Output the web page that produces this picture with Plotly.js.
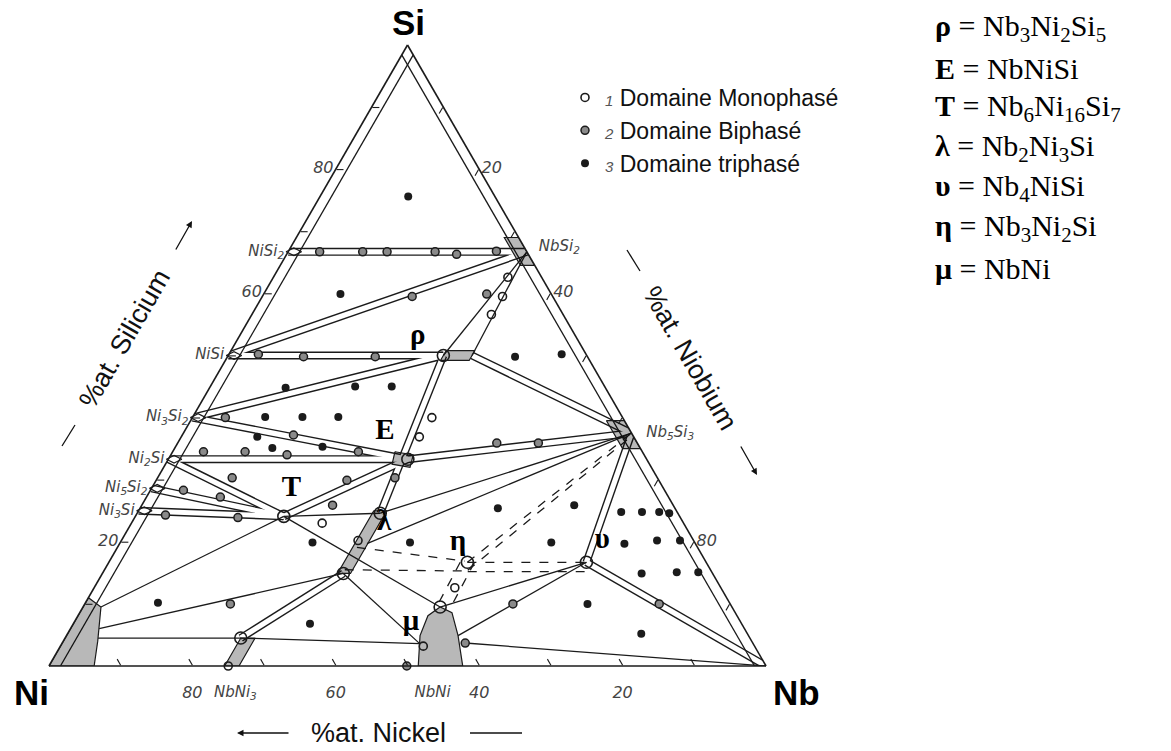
<!DOCTYPE html>
<html>
<head>
<meta charset="utf-8">
<script src="https://cdn.plot.ly/plotly-3.0.1.min.js"></script>
<style>
  body { margin: 0; background: #fff; }
  #myDiv { width: 1171px; height: 751px; }
</style>
</head>
<body>
<div id="myDiv"></div>
<script>
// toutes les compositions en %at. : [Si, Ni, Nb]
var Ni_ = [0, 100, 0], Nb_ = [0, 0, 100];
var NiSi2 = [66.7, 33.3, 0], NiSi = [50, 50, 0], Ni3Si2 = [40, 60, 0];
var Ni2Si = [33.3, 66.7, 0], Ni5Si2 = [28.6, 71.4, 0], Ni3Si = [25, 75, 0];
var NbSi2 = [66.7, 0, 33.3], Nb5Si3 = [37.5, 0, 62.5];
var rho = [50, 20, 30], rho2 = [50, 16, 34], E = [33.3, 33.3, 33.4], T = [24.1, 55.2, 20.7];
var lamHaut = [24.6, 41.5, 33.9], lamMil = [19.7, 45.8, 34.5], lamBas = [14.9, 51.5, 33.6];
var eta = [16.7, 33.3, 50], ups = [16.7, 16.7, 66.6];
var muHaut = [9.5, 40.7, 49.8], muGauche = [3.6, 46.5, 49.9], muDroite = [3.7, 40.1, 56.2];
var NbNi3haut = [4.5, 71, 24.5], NbNi3bas = [0, 75, 25];
var NissHaut = [9.5, 88, 2.5], NissMil = [6, 90, 4], NissBas = [4.5, 90.9, 4.6];

// domaines biphasés étroits (traits doubles)
var bandes = [[NiSi2, NbSi2], [NiSi, NbSi2], [NiSi, rho], [Ni3Si2, rho], [Ni3Si2, E],
  [Ni2Si, E], [Ni2Si, T], [Ni5Si2, T], [Ni3Si, T], [T, E], [rho, lamHaut],
  [rho2, Nb5Si3], [E, Nb5Si3], [ups, Nb5Si3], [ups, Nb_], [NbNi3haut, lamBas]];

// conodes simples
var traits = [[NbSi2, rho], [NbSi2, rho2], [NissHaut, T], [NissMil, lamBas], [NissBas, NbNi3haut],
  [NbNi3haut, muGauche], [T, lamHaut], [T, muHaut], [lamBas, muGauche], [lamHaut, Nb5Si3],
  [lamMil, Nb5Si3], [muHaut, ups], [[4.9, 40.5, 54.6], ups], [muDroite, Nb_]];

// limites incertaines (tirets)
var tirets = [[[19.1, 47.5, 33.4], [16.9, 33.6, 49.5]], [[15.5, 51, 33.5], [15.3, 34.5, 50.2]],
  [eta, Nb5Si3], [[15.4, 33.9, 50.7], [36.4, 1.2, 62.4]],
  [eta, ups], [[15.2, 34, 50.8], [15.2, 17.7, 67.1]],
  [[16.7, 34.3, 49], [9.5, 41.2, 49.3]], [[16.7, 32.3, 51], [9.5, 39.2, 51.3]]];

// trait intérieur des bords gauche et droit
var bordsInt = [[[98.4, 0, 1.6], [0, 98.4, 1.6]], [[98.4, 1.6, 0], [0, 1.6, 98.4]]];

// zones hachurées
var zones = [
  [[0, 100, 0], [11, 89, 0], [9.5, 88, 2.5], [4, 91.2, 4.8], [0, 93.7, 6.3]],
  [[0, 48.5, 51.5], [4.9, 45.8, 49.3], [8.1, 43.1, 48.8], [9.5, 40.7, 49.8], [8.6, 39.5, 51.9], [4.9, 40.5, 54.6], [0, 42.3, 57.7]],
  [[0, 75.5, 24.5], [0, 73.5, 26.5], [4.5, 69, 26.5], [4.5, 71, 24.5]],
  [[25, 42.2, 32.8], [25, 40.4, 34.6], [14.9, 50.5, 34.6], [14.9, 52.3, 32.8]],
  [[50.8, 19.2, 30], [50.8, 15.2, 34], [49.2, 16.8, 34], [49.2, 20.8, 30]],
  [[34.5, 34.5, 31], [34, 32.2, 33.8], [32, 33.65, 34.35], [32.5, 35.9, 31.6]],
  [[69, 0, 31], [64.5, 0, 35.5], [64.5, 2, 33.5], [69, 2, 29]],
  [[39.5, 0, 60.5], [35, 0, 65], [35, 2.5, 62.5], [39.5, 2.5, 58]]
];

// échantillons
var monophase = [[62.6, 4.7, 32.7], [59.5, 7, 33.5], [56.6, 10, 33.4], [40, 26.6, 33.4], [36.9, 29.9, 33.2],
  [23, 50.4, 26.6], [12.6, 37.1, 50.3], [3.2, 46.2, 50.6], [20.2, 46.8, 33], [0, 75, 25]];
var biphase = [[66.7, 28.9, 4.4], [66.7, 22.9, 10.4], [66.7, 19.5, 13.8], [66.7, 12.8, 20.5], [66.3, 10, 23.7], [66.8, 4.2, 29],
  [59.5, 19.6, 20.9], [59.9, 9, 31.1], [50.2, 45.7, 4.1], [49.8, 39.6, 10.6], [49.8, 29.6, 20.6],
  [40, 55.4, 4.6], [37.2, 47.3, 15.5], [34.5, 39.6, 25.9], [34.5, 61.2, 4.3], [34.5, 55.4, 10.1], [34, 49.8, 16.2],
  [30.3, 59.3, 10.4], [28.3, 67.1, 4.6], [27.2, 62.5, 10.3], [24.3, 71.6, 4.1], [23.9, 61.7, 14.4],
  [29.9, 43.5, 26.6], [25.9, 47.5, 26.6], [10, 69.7, 20.3], [35.9, 19.6, 44.5], [35.9, 13.8, 50.3],
  [10, 30.3, 59.7], [10, 9.9, 80.1], [0, 50.1, 49.9], [3.7, 40.1, 56.2], [30.3, 36.6, 33.1]];
var triphase = [[75.6, 12.1, 12.3], [59.9, 29.4, 10.7], [49.8, 10.1, 40.1], [50.2, 3.4, 46.4],
  [44.8, 44.6, 10.6], [45, 34.8, 20.2], [45, 29.7, 25.3], [40.1, 49.8, 10.1], [40.1, 44.6, 15.3], [40.1, 39.6, 20.3],
  [36.9, 52.5, 10.6], [35.1, 51.3, 13.6], [35.3, 44.2, 20.5], [10.2, 79.7, 10.1], [6.8, 60.2, 33],
  [25.4, 24.7, 49.9], [19.9, 39.7, 40.4], [25.9, 13.8, 60.3], [19.9, 20, 60.1], [10, 19.9, 70.1], [5.2, 14.8, 80],
  [24.8, 7.8, 67.4], [24.8, 4.9, 70.3], [24.8, 2.5, 72.7], [24.6, 1.2, 74.2],
  [19.7, 9.9, 70.4], [20.2, 5.1, 74.7], [20.2, 1.9, 77.9], [14.9, 9.9, 75.2], [15.1, 4.9, 80], [15.1, 1.9, 83],
  [19.9, 53.3, 26.8]];
var noeuds = [rho, E, T, lamHaut, lamBas, eta, ups, muHaut, NbNi3haut];

// étiquettes
var composesGauche = ['NiSi<sub>2</sub>', 'NiSi', 'Ni<sub>3</sub>Si<sub>2</sub>', 'Ni<sub>2</sub>Si', 'Ni<sub>5</sub>Si<sub>2</sub>', 'Ni<sub>3</sub>Si'];
var posGauche = [[66.7, 32.5, 0.8], [50, 49.2, 0.8], [40, 59.2, 0.8], [33.3, 65.9, 0.8], [28.6, 70.6, 0.8], [25, 74.2, 0.8]];
var composesDroite = ['NbSi<sub>2</sub>', 'Nb<sub>5</sub>Si<sub>3</sub>'];
var posDroite = [[67.5, 0, 32.5], [37.5, 0, 62.5]];
var composesBas = ['NbNi<sub>3</sub>', 'NbNi'];
var posBas = [[0, 74, 26], [0, 46.5, 53.5]];
var graduationsNi = [80, 60, 40, 20];   // %at. Ni écrits sous la base
var phases = ['ρ', 'E', 'T', 'λ', 'η', 'υ', 'μ'];
var posPhases = [[53.1, 22, 24.9], [37.7, 34.3, 28], [28.6, 51.9, 19.5], [23.1, 41.7, 35.2], [19.9, 33, 47.1], [20.1, 12.8, 67.1], [7, 46, 47]];
var formules = ['Nb<sub>3</sub>Ni<sub>2</sub>Si<sub>5</sub>', 'NbNiSi', 'Nb<sub>6</sub>Ni<sub>16</sub>Si<sub>7</sub>',
  'Nb<sub>2</sub>Ni<sub>3</sub>Si', 'Nb<sub>4</sub>NiSi', 'Nb<sub>3</sub>Ni<sub>2</sub>Si', 'NbNi'];
var symboles = ['ρ', 'E', 'T', 'λ', 'υ', 'η', 'μ'];
var legendes = ['Domaine Monophasé', 'Domaine Biphasé', 'Domaine triphasé'];

var noir = '#1b1b1b';
var W = 1171, H = 751;

function segments(liste) {
  var a = [], b = [], c = [];
  for (var i = 0; i < liste.length; i++) {
    for (var j = 0; j < liste[i].length; j++) {
      a.push(liste[i][j][0]); b.push(liste[i][j][1]); c.push(liste[i][j][2]);
    }
    a.push(null); b.push(null); c.push(null);
  }
  return {a: a, b: b, c: c};
}
function pts(liste) {
  return {a: liste.map(function (p) { return p[0]; }),
          b: liste.map(function (p) { return p[1]; }),
          c: liste.map(function (p) { return p[2]; })};
}
function trace(geo, opts) {
  var t = {type: 'scatterternary', hoverinfo: 'skip', showlegend: false, cliponaxis: false};
  Object.assign(t, geo, opts);
  return t;
}

var data = [];
data.push(trace(segments(bandes), {mode: 'lines', line: {color: noir, width: 8}}));
data.push(trace(segments(bandes), {mode: 'lines', line: {color: 'white', width: 5.2}}));
data.push(trace(segments(bordsInt), {mode: 'lines', line: {color: noir, width: 1.3}}));
data.push(trace(segments(traits), {mode: 'lines', line: {color: noir, width: 1.3}}));
data.push(trace(segments(tirets), {mode: 'lines', line: {color: noir, width: 1.3, dash: 'dash'}}));
zones.forEach(function (z) {
  data.push(trace(pts(z.concat([z[0]])), {mode: 'lines', fill: 'toself', fillcolor: 'rgba(0,0,0,0.28)',
    line: {color: noir, width: 1.2}}));
});
data.push(trace(pts(posGauche), {mode: 'markers', marker: {symbol: 'diamond-wide-open', size: 11, color: noir, line: {width: 1.2}}}));
data.push(trace(pts(noeuds), {mode: 'markers', marker: {symbol: 'circle-open', size: 12, color: noir, line: {width: 1.6}}}));

function nom(n, txt) {
  return '<span style="color:#555;font-size:15px"><i>' + n + '</i></span> ' + txt;
}
data.push(trace(pts(monophase), {mode: 'markers', showlegend: true, name: nom(1, legendes[0]),
  marker: {symbol: 'circle-open', size: 8, color: noir, line: {width: 1.6}}}));
data.push(trace(pts(biphase), {mode: 'markers', showlegend: true, name: nom(2, legendes[1]),
  marker: {symbol: 'circle', size: 8, color: '#8a8a8a', line: {color: noir, width: 1.5}}}));
data.push(trace(pts(triphase), {mode: 'markers', showlegend: true, name: nom(3, legendes[2]),
  marker: {symbol: 'circle', size: 8, color: noir}}));

var fontMain = {family: 'DejaVu Sans', size: 15, color: '#444', style: 'italic'};
data.push(trace(pts(posGauche), {mode: 'markers+text', text: composesGauche, textposition: 'middle left',
  textfont: fontMain, marker: {size: 14, opacity: 0}}));
data.push(trace(pts(posDroite), {mode: 'markers+text', text: composesDroite, textposition: 'middle right',
  textfont: fontMain, marker: {size: 22, opacity: 0}}));
data.push(trace(pts(posBas), {mode: 'markers+text', text: composesBas, textposition: 'bottom center',
  textfont: fontMain, marker: {size: 30, opacity: 0}}));
data.push(trace({a: graduationsNi.map(function () { return 0; }), b: graduationsNi,
  c: graduationsNi.map(function (v) { return 100 - v; })},
  {mode: 'markers+text', text: graduationsNi.map(String), textposition: 'bottom center',
  textfont: {family: 'DejaVu Sans', size: 16, color: '#444', style: 'italic'}, marker: {size: 30, opacity: 0}}));
data.push(trace(pts(posPhases), {mode: 'text', text: phases, textposition: 'middle center',
  textfont: {family: 'Liberation Serif', size: 29, color: '#000', weight: 'bold'}}));

function axe(vals, textes) {
  return {
    min: 0, title: {text: ''},
    tickmode: 'array', tickvals: vals, ticktext: textes,
    ticks: 'inside', ticklen: 7, tickcolor: noir, tickwidth: 1.1,
    showgrid: false, showline: true, linecolor: noir, linewidth: 1.6,
    tickfont: {family: 'DejaVu Sans', size: 16, color: '#444', style: 'italic'}
  };
}
var dix = [10, 20, 30, 40, 50, 60, 70, 80, 90];

function px(x) { return x / W; }
function py(y) { return 1 - y / H; }
function note(x, y, txt, opts) {
  return Object.assign({xref: 'paper', yref: 'paper', x: px(x), y: py(y), text: txt,
    xanchor: 'center', yanchor: 'middle', showarrow: false}, opts);
}

var fontCoin = {family: 'Liberation Sans', size: 35, color: '#000'};
var fontAxe = {family: 'Liberation Sans', size: 27, color: '#111'};
var annotations = [
  note(408, 22, '<b>Si</b>', {font: fontCoin}),
  note(31, 692, '<b>Ni</b>', {font: fontCoin}),
  note(796, 692, '<b>Nb</b>', {font: fontCoin}),
  note(125, 338, '%at. Silicium', {textangle: -60, font: fontAxe}),
  note(690, 358, '%at. Niobium', {textangle: 60, font: fontAxe}),
  note(378, 733, '%at. Nickel', {font: fontAxe})
];
// flèches
[[192, 221, -17, 30], [757, 475, -17, -30], [237, 733, 53, 0]].forEach(function (f) {
  annotations.push({xref: 'paper', yref: 'paper', x: px(f[0]), y: py(f[1]), ax: f[2], ay: f[3], text: '',
    showarrow: true, arrowhead: 2, arrowsize: 1, arrowwidth: 1.3, arrowcolor: '#111'});
});
// formules
for (var i = 0; i < symboles.length; i++) {
  annotations.push(note(933, 28 + 40 * i, '<b>' + symboles[i] + '</b> = ' + formules[i],
    {xanchor: 'left', font: {family: 'Liberation Serif', size: 30, color: '#000'}}));
}

var shapes = [[62, 446, 75, 425], [627, 250, 640, 271], [470, 733, 522, 733]].map(function (s) {
  return {type: 'line', xref: 'paper', yref: 'paper', x0: px(s[0]), y0: py(s[1]), x1: px(s[2]), y1: py(s[3]),
    line: {color: '#111', width: 1.3}};
});

var layout = {
  width: W, height: H,
  margin: {l: 0, r: 0, t: 0, b: 0},
  paper_bgcolor: 'white',
  showlegend: true,
  legend: {x: px(565), y: py(76), xanchor: 'left', yanchor: 'top', bgcolor: 'rgba(0,0,0,0)',
    font: {family: 'Liberation Sans', size: 23, color: '#111'}, tracegroupgap: 0},
  ternary: {
    sum: 100,
    domain: {x: [px(46), px(769)], y: [py(666), py(45)]},
    bgcolor: 'white',
    aaxis: axe(dix, ['', '20', '', '', '', '60', '', '80', '']),
    baxis: axe(dix, dix.map(function () { return ''; })),
    caxis: axe(dix, ['', '20', '', '40', '', '', '', '80', ''])
  },
  annotations: annotations,
  shapes: shapes
};

Plotly.newPlot('myDiv', data, layout, {displayModeBar: false, staticPlot: true});
</script>
</body>
</html>
